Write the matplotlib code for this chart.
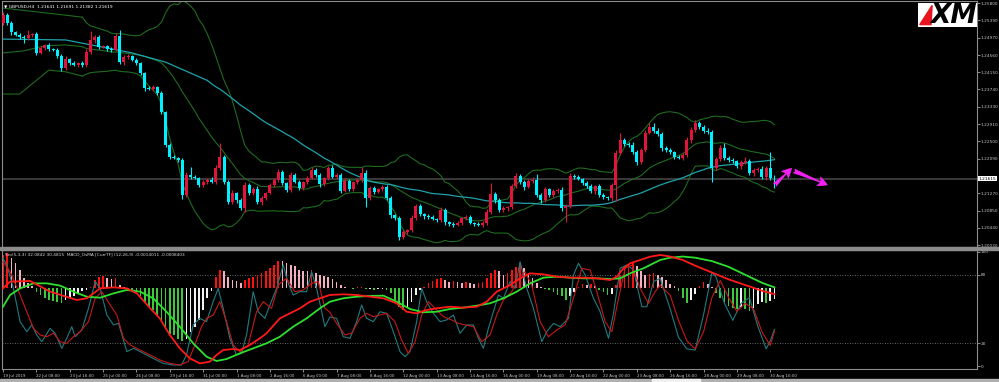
import numpy as np
import pandas as pd
import matplotlib
matplotlib.use("Agg")
import matplotlib.pyplot as plt
from matplotlib.patches import Rectangle, Polygon
from matplotlib.transforms import blended_transform_factory

# ---------------- data ----------------
symbol_title = "\u25BC GBPUSD,H4  1.21641 1.21691 1.21382 1.21619"
indicator_title = "Sto(5,3,3) 32.0842 30.4815  MACD_OsMA [CurrTF] (12,26,9) -0.0014011 -0.0008403"

first_open = 1.25324
closes = [
    1.25514, 1.25324, 1.25109, 1.25038, 1.24990, 1.24966, 1.25038, 1.25062, 1.24609, 1.24728,
    1.24799, 1.24704, 1.24680, 1.24537, 1.24251, 1.24466, 1.24370, 1.24323, 1.24370, 1.24323,
    1.24632, 1.24918, 1.24990, 1.24752, 1.24770, 1.24704, 1.24690, 1.25014, 1.24394, 1.24513,
    1.24537, 1.24442, 1.24370, 1.24132, 1.23774, 1.23750, 1.23798, 1.23655, 1.23202, 1.22416,
    1.22129, 1.22106, 1.22058, 1.21224, 1.21700, 1.21653, 1.21629, 1.21462, 1.21534, 1.21581,
    1.21534, 1.21867, 1.22129, 1.21534, 1.21057, 1.21271, 1.21104, 1.20914, 1.21462, 1.21271,
    1.21367, 1.21057, 1.21152, 1.21271, 1.21462, 1.21581, 1.21772, 1.21510, 1.21343, 1.21700,
    1.21534, 1.21390, 1.21534, 1.21629, 1.21820, 1.21700, 1.21486, 1.21629, 1.21867, 1.21653,
    1.21700, 1.21319, 1.21557, 1.21367, 1.21534, 1.21581, 1.21748, 1.21152, 1.21390, 1.21295,
    1.21367, 1.21414, 1.21152, 1.20747, 1.20675, 1.20222, 1.20342, 1.20389, 1.20675, 1.20961,
    1.20771, 1.20723, 1.20699, 1.20651, 1.20628, 1.20866, 1.20580, 1.20532, 1.20508, 1.20556,
    1.20675, 1.20699, 1.20556, 1.20532, 1.20520, 1.20556, 1.20818, 1.21247, 1.21104, 1.20866,
    1.20914, 1.20938, 1.21438, 1.21677, 1.21534, 1.21414, 1.21557, 1.21581, 1.21224, 1.21104,
    1.21367, 1.21224, 1.21319, 1.21343, 1.20914, 1.20961, 1.21677, 1.21653, 1.21605, 1.21510,
    1.21438, 1.21319, 1.21438, 1.21224, 1.21176, 1.21152, 1.21462, 1.22225, 1.22535, 1.22439,
    1.22416, 1.22249, 1.22010, 1.22296, 1.22702, 1.22845, 1.22749, 1.22678, 1.22344, 1.22296,
    1.22249, 1.22129, 1.22106, 1.22177, 1.22535, 1.22773, 1.22940, 1.22845, 1.22749, 1.22725,
    1.21867, 1.22082, 1.22344, 1.22106, 1.22058, 1.22034, 1.21915, 1.22010, 1.22034, 1.21748,
    1.21820, 1.21843, 1.21653, 1.21867, 1.21629, 1.21619,
]
upper_wick_pips = [
    6, 4, 5, 3, 4, 5, 12, 3, 4, 5,
    3, 4, 2, 5, 4, 6, 3, 4, 3, 5,
    6, 21, 5, 4, 3, 4, 5, 6, 14, 4,
    5, 3, 4, 3, 2, 4, 5, 3, 4, 3,
    4, 5, 3, 4, 6, 19, 4, 3, 5, 4,
    6, 8, 33, 5, 4, 6, 3, 5, 7, 4,
    5, 6, 4, 3, 5, 4, 6, 5, 3, 6,
    4, 5, 3, 4, 6, 5, 4, 3, 5, 6,
    4, 5, 6, 4, 3, 5, 14, 6, 4, 5,
    3, 4, 5, 4, 3, 5, 4, 3, 6, 5,
    4, 3, 5, 4, 3, 6, 4, 3, 5, 4,
    3, 5, 4, 3, 4, 5, 8, 26, 4, 5,
    4, 3, 5, 6, 4, 5, 4, 6, 14, 4,
    5, 3, 4, 5, 6, 4, 7, 4, 5, 3,
    4, 5, 3, 4, 5, 3, 4, 6, 17, 5,
    4, 6, 5, 4, 8, 10, 9, 6, 5, 4,
    5, 3, 4, 5, 6, 8, 7, 5, 4, 6,
    5, 4, 6, 12, 4, 5, 3, 4, 9, 5,
    4, 5, 6, 4, 38, 6,
]
lower_wick_pips = [
    5, 4, 6, 3, 5, 12, 4, 5, 6, 3,
    4, 5, 3, 4, 6, 5, 4, 3, 5, 4,
    5, 4, 6, 5, 3, 4, 5, 4, 5, 6,
    4, 3, 5, 4, 6, 3, 4, 5, 4, 6,
    5, 3, 4, 10, 5, 4, 3, 5, 4, 6,
    3, 5, 4, 6, 5, 4, 6, 5, 10, 4,
    5, 4, 6, 5, 3, 4, 5, 6, 4, 5,
    3, 4, 5, 4, 3, 5, 6, 4, 5, 3,
    5, 4, 3, 6, 4, 5, 4, 21, 5, 4,
    3, 5, 4, 6, 5, 8, 4, 6, 5, 4,
    5, 6, 4, 3, 5, 4, 6, 5, 4, 3,
    5, 4, 3, 5, 4, 6, 5, 4, 6, 5,
    4, 6, 5, 4, 5, 6, 3, 5, 4, 6,
    5, 4, 6, 5, 7, 33, 4, 5, 3, 4,
    5, 4, 6, 5, 4, 5, 6, 38, 4, 5,
    4, 5, 6, 4, 5, 3, 4, 5, 6, 4,
    5, 4, 3, 5, 4, 6, 5, 4, 5, 4,
    33, 5, 4, 6, 5, 4, 5, 6, 4, 5,
    6, 4, 5, 6, 4, 24,
]

# early (pre-window) parts of the indicator lines
bb_upper_early_idx = [0, 8, 15]
bb_upper_early_val = [1.2568, 1.2559, 1.2551]
bb_mid_early_idx = [0, 5, 10, 15]
bb_mid_early_val = [1.2461, 1.2466, 1.2478, 1.2480]
bb_lower_early_idx = [0, 4, 11, 15]
bb_lower_early_val = [1.2363, 1.2363, 1.2420, 1.2416]
ma_early_idx = [0, 15, 31, 39]
ma_early_val = [1.2494, 1.2492, 1.2461, 1.2439]
bb_period = 20
ma_period = 50

current_price = 1.21615
price_ticks = [1.25800, 1.25390, 1.24970, 1.24560, 1.24150, 1.23740, 1.23330,
               1.22910, 1.22500, 1.22090, 1.21270, 1.20850, 1.20440, 1.20030]

x_tick_labels = ["19 Jul 2019", "22 Jul 08:00", "23 Jul 16:00", "25 Jul 00:00", "26 Jul 08:00",
                 "29 Jul 16:00", "31 Jul 00:00", "1 Aug 08:00", "2 Aug 16:00", "6 Aug 00:00",
                 "7 Aug 08:00", "8 Aug 16:00", "12 Aug 00:00", "13 Aug 08:00", "14 Aug 16:00",
                 "16 Aug 00:00", "19 Aug 08:00", "20 Aug 16:00", "22 Aug 00:00", "23 Aug 08:00",
                 "26 Aug 16:00", "28 Aug 00:00", "29 Aug 08:00", "30 Aug 16:00"]
x_tick_bars = list(range(0, 8 * len(x_tick_labels), 8))

# magenta forecast arrows: (bar, price) tail -> head
arrow1 = ((185.0, 1.2146), (189.2, 1.2187))
arrow2 = ((189.6, 1.2180), (197.8, 1.2146))

# lower panel (0..100 scale)
osma_base = 68.2
osma_vals = [
    97, 99, 95, 90, 84, 77, 73, 70, 65, 62,
    59.6, 58, 57, 56, 55.5, 58, 59.6, 61, 63, 65.5,
    67, 69.6, 75.4, 78.4, 79, 77, 76, 77.5, 71, 69.6,
    67, 66.5, 65.5, 61, 56.4, 52, 49, 44.6, 40.2, 34.4,
    28.5, 27, 24, 21.8, 24, 30, 34.4, 40.2, 49, 59.6,
    66, 78.4, 84, 83, 78.4, 75.4, 74.5, 72.5, 75.4, 77,
    78.4, 80, 81.3, 83, 86, 89, 92.5, 92, 90, 89,
    87.4, 84.5, 83.6, 83, 84.5, 81.6, 79.5, 79, 78, 76.5,
    74, 71, 69.6, 68.8, 67.8, 69, 69.6, 67.3, 67.6, 67.0,
    67.4, 67.8, 66.7, 64, 58, 52, 49, 50.6, 56.4, 62.3,
    67, 69.6, 72.5, 74.5, 76.3, 77, 75.4, 73.4, 74.5, 73.4,
    72.5, 73.4, 72.5, 71.6, 72.5, 74, 77, 81.3, 84.2, 83,
    80, 81.3, 84.2, 87, 90, 85.7, 81.3, 77, 72.5, 69.6,
    67.3, 66.7, 65.2, 62.3, 61, 58, 61, 65.2, 69.6, 71.6,
    71, 71.6, 70.1, 66.7, 65.2, 62.3, 63, 71, 80, 86,
    89, 90.4, 87.4, 83, 80, 80.7, 81.6, 80, 78, 75,
    72, 70, 66, 60, 55, 58, 63, 70, 74, 72,
    69, 64, 60, 56, 53, 51, 50, 52, 50, 48,
    51, 54, 56, 55, 57, 59,
]

stoch_main_idx = [0, 0.9, 2.5, 4.1, 5.7, 6.9, 8.1, 9.3, 11.3, 12.5, 14.1, 15.3, 16.5, 17.3, 18.9,
                  20.5, 22.1, 23.3, 24.9, 26.5, 27.7, 29.7, 31.3, 32.9, 34.5, 36, 38.4, 40.8, 42.8,
                  44, 45.6, 47.2, 48.8, 50.4, 51.6, 52.8, 54.4, 56, 57.2, 58.4, 60, 61.2, 62.8, 64,
                  65.6, 67.2, 68.4, 69.6, 71.2, 72.8, 74, 75.2, 77.2, 78.4, 80, 81.6, 83.2, 84.8,
                  86, 87.2, 88.8, 90.4, 92, 93.6, 95.2, 96.4, 97.6, 99.2, 100.4, 101.6, 103.2,
                  104.8, 106.4, 108, 109.6, 111.2, 112.8, 114, 115.2, 116.4, 117.6, 118.8, 120,
                  121.6, 122.8, 124, 125.6, 127.2, 129.2, 130.4, 132, 133.6, 135.6, 136.8, 138,
                  139.6, 141.6, 143.2, 145.2, 146.4, 148, 149.6, 151.2, 153.2, 154.4, 156, 157.6,
                  160, 162, 164, 166, 168, 170, 171, 173, 175, 177, 179, 181, 183, 184, 185]
stoch_main_val = [94.4, 88.6, 68.1, 38.9, 30.1, 36, 27.2, 21.3, 33, 28.7, 15.5, 24.3, 34.5, 25.7, 31.6,
                  50.6, 74, 68.1, 44.7, 36, 37.4, 12.6, 15.5, 12.6, 9.6, 6.7, 2.3, 0.9, 0.9,
                  9.6, 36, 41.8, 38.9, 56.4, 68.1, 50.6, 24.3, 9.6, 11.1, 27.2, 65.2, 47.6, 41.8, 53.5,
                  68.1, 88.6, 72.5, 62.3, 65.2, 65.2, 82.7, 68.1, 34.5, 43, 41.8, 25.7, 24.3, 38.9,
                  53.5, 41.8, 38.9, 47.6, 46.2, 30.1, 12.6, 8.2, 12.6, 38.9, 68.1, 56.4, 46.2,
                  38.9, 40.4, 44.7, 28.7, 36, 36, 24.3, 15.5, 33, 47.6, 62.3, 59.4,
                  74, 68.1, 91.5, 68.1, 50.6, 21.3, 30.1, 37.4, 34.5, 41.8, 79.8, 90.1,
                  79.8, 59.4, 47.6, 24.3, 46.2, 85.7, 88.6, 84.2, 52, 52, 74, 76.9,
                  50, 25, 15, 14, 45, 82, 78, 55, 40, 55, 60, 35, 15, 22, 32.08]
stoch_sig_idx = [0, 1.7, 4.1, 5.7, 7.3, 8.9, 10.5, 12.1, 13.7, 15.3, 16.9, 18.5, 20.5, 22.1, 23.7,
                 25.7, 27.3, 28.9, 30.5, 32.9, 35.3, 37.6, 40, 42.4, 44.4, 46, 47.6, 48.8, 50.4, 52,
                 53.6, 55.2, 56.8, 58.8, 60.8, 62.4, 64.4, 66, 68, 70, 72, 74, 75.6, 77.2, 78.4, 80,
                 82, 83.6, 85.6, 87.2, 88.8, 90.4, 92, 94, 95.6, 97.2, 98.8, 100.4, 102, 103.6,
                 105.6, 107.6, 109.2, 110.8, 112.8, 114.8, 116.8, 118.4, 120, 122, 123.6, 125.2,
                 126.8, 128.8, 130.8, 132.8, 134.8, 136.8, 138.8, 140.8, 142.4, 144.4, 146, 147.6,
                 149.2, 150.8, 152.8, 154.8, 156.4, 157.6, 160, 162, 164, 166, 168, 170, 172, 174,
                 176, 178, 180, 182, 184, 185]
stoch_sig_val = [91.5, 82.7, 62.3, 47.6, 33, 27.2, 25.7, 28.7, 21.3, 19.9, 25.7, 30.1, 38.9, 59.4, 65.2,
                 53.5, 44.7, 24.3, 18.4, 14, 9.6, 5.3, 2.3, 0.9, 3.8, 18.4, 34.5, 41.8, 44.7, 56.4,
                 38.9, 18.4, 12.6, 18.4, 47.6, 56.4, 50.6, 71, 76.9, 65.2, 66.7, 72.5, 74, 50.6, 47, 37.4,
                 27.2, 28.7, 41.8, 46.2, 43.3, 44.7, 46.2, 38.9, 22.8, 11.1, 21.3, 44.7, 56.4, 50.6,
                 43.3, 40.4, 37.4, 36, 34.5, 21.3, 27.2, 44.7, 57.9, 65.2, 76.9, 82.7,
                 71, 38.9, 25.7, 31.6, 36, 59.4, 85.7, 84.2, 65.2, 38.9, 30.1, 59.4,
                 85.7, 88.6, 68.1, 55, 65.2, 71, 62, 40, 22, 15, 30, 60, 75, 60,
                 48, 55, 50, 30, 18, 30.48]

macd_red_idx = [0, 1.7, 6.5, 11.3, 17.7, 20.1, 23.3, 26.5, 29.7, 32.1, 35.3, 37.6, 40, 42.4, 44.8,
                47.2, 49.6, 51.2, 52.8, 55.2, 56.8, 59.2, 61.6, 63.2, 66.4, 68.8, 71.2, 73.6, 76,
                78.4, 81.6, 84.8, 88, 91.2, 94.4, 96.8, 99.2, 101.6, 104, 107.2, 110.4, 113.6, 116,
                118.4, 121.6, 124, 126.4, 129.6, 132.8, 136, 139.2, 142.4, 145.6, 147.2, 148.8,
                150.4, 152.8, 155.2, 157.6, 160, 163, 166, 170, 174, 178, 182, 185]
macd_red_val = [68.1, 74, 74.6, 65.2, 57.9, 59.4, 68.1, 69, 68.1, 63.7, 50.6, 41.8, 27.2, 15.5, 6.7,
                2.3, 3.8, 9.6, 14, 14.9, 14, 18.4, 24.3, 28.7, 41.8, 46.2, 50.6, 56.4, 59.4,
                62.3, 62.9, 62.3, 60.8, 59.4, 55, 47.6, 46.2, 49.1, 50.6, 52, 51.2, 52, 56.4,
                65.2, 71, 76.9, 81.3, 80.4, 78.4, 77.5, 77.5, 76.9, 75.4, 78.4, 85.7,
                90.1, 93, 95.9, 97.4, 96, 93, 88, 82, 76, 71, 66, 63]
macd_green_idx = [0, 1.7, 4.1, 7.3, 10.5, 13.7, 16.9, 20.1, 23.3, 26.5, 29.7, 32.9, 36, 39.2, 42.4,
                  45.6, 48.8, 51.2, 53.6, 56.8, 60, 63.2, 66.4, 69.6, 72.8, 76, 78.4, 81.6, 84.8,
                  88, 91.2, 94.4, 97.6, 100.8, 104, 107.2, 110.4, 113.6, 116.8, 120, 123.2, 126.4,
                  129.6, 132.8, 136, 139.2, 142.4, 145.6, 148, 150.4, 153.6, 156, 157.6, 160, 163,
                  166, 170, 174, 178, 182, 185]
macd_green_val = [52, 62.3, 68.1, 72.5, 72.5, 70.5, 65.2, 60.8, 59.9, 63.7, 66.7, 65.2, 59.4, 47.6, 34.5,
                  19.9, 8.2, 4.4, 6.1, 11.1, 15.5, 19.9, 25.7, 34.5, 41.8, 50.6, 56.4, 59.4, 60.8,
                  61.4, 61.7, 56.4, 50, 47.1, 47.6, 50, 51.2, 52.9, 55, 59.4, 65.2, 72.5,
                  77.5, 78.4, 77.5, 76.9, 76.9, 76.3, 76.9, 81.3, 85.7, 90.1, 93, 95, 96,
                  95, 92, 87, 80, 73, 69]

# ---------------- figure ----------------
W, H = 999, 382
fig = plt.figure(figsize=(W / 100, H / 100), dpi=100, facecolor="black")
ax = fig.add_axes([2 / W, 1 - 247 / H, 975 / W, 246 / H], facecolor="black")
ax2 = fig.add_axes([2 / W, 1 - 369 / H, 975 / W, 119 / H], facecolor="black")

xlim = (-0.24, 233.57)
ax.set_xlim(*xlim)
ax.set_ylim(1.19984, 1.25848)
ax2.set_xlim(*xlim)
ax2.set_ylim(-2.63, 101.75)

spine_col = "#8c8c8c"
for a in (ax, ax2):
    for s in a.spines.values():
        s.set_color(spine_col)
        s.set_linewidth(0.8)

# ---- candles ----
c = np.array(closes)
o = np.r_[first_open, c[:-1]]
hi = np.maximum(o, c) + np.array(upper_wick_pips) * 1e-4
lo = np.minimum(o, c) - np.array(lower_wick_pips) * 1e-4
idx = np.arange(len(c))
up = c >= o
col_up, col_dn = "#e0143c", "#00f0ff"
cols = np.where(up, col_up, col_dn)
body = c - o
body = np.where(np.abs(body) < 0.00012, np.where(up, 0.00012, -0.00012), body)

ax.axhline(current_price, color="#4a4a4a", lw=1.1, zorder=1)
ax.vlines(idx, lo, hi, colors=cols, lw=0.8, zorder=3)
ax.bar(idx, body, bottom=o, width=0.72, color=cols, linewidth=0, zorder=4)

# ---- Bollinger bands and moving average ----
cs = pd.Series(c)
mid = cs.rolling(bb_period).mean()
sd = cs.rolling(bb_period).std(ddof=0)
bb_u = mid + 2 * sd
bb_l = mid - 2 * sd
ma = cs.rolling(ma_period).mean()
band_col = "#1f6b1f"
j = bb_period - 1
for e_idx, e_val, ser in ((bb_upper_early_idx, bb_upper_early_val, bb_u),
                          (bb_mid_early_idx, bb_mid_early_val, mid),
                          (bb_lower_early_idx, bb_lower_early_val, bb_l)):
    ax.plot(list(e_idx) + [j], list(e_val) + [ser.iloc[j]], color=band_col, lw=0.8, zorder=2)
    ax.plot(idx[j:], ser.values[j:], color=band_col, lw=0.8, zorder=2)
k = ma_period - 1
ma_col = "#1fa2ab"
ax.plot(list(ma_early_idx) + [k], list(ma_early_val) + [ma.iloc[k]], color=ma_col, lw=0.9, zorder=2)
ax.plot(idx[k:], ma.values[k:], color=ma_col, lw=0.9, zorder=2)

# ---- arrows ----
for tail, head in (arrow1, arrow2):
    ax.annotate("", xy=head, xytext=tail,
                arrowprops=dict(arrowstyle="fancy,head_length=0.75,head_width=0.75,tail_width=0.35",
                                color="#f020f0", lw=0, shrinkA=0, shrinkB=0, mutation_scale=10),
                zorder=6)

# ---- axes ticks main ----
ax.set_xticks([])
ax.yaxis.tick_right()
ax.set_yticks(price_ticks)
ax.set_yticklabels([f"{p:.5f}" for p in price_ticks])
ax.tick_params(axis="y", colors="#c8c8c8", labelsize=3.1, length=2, width=0.5, pad=0.8)
trans = blended_transform_factory(ax.transAxes, ax.transData)
ax.text(1.0015, current_price, f"{current_price:.5f}", transform=trans, fontsize=3.1,
        color="black", va="center", ha="left",
        bbox=dict(boxstyle="square,pad=0.12", fc="white", ec="white", lw=0))

# ---- lower panel ----
h = np.array(osma_vals)
prev = np.r_[h[0], h[:-1]]
hcols = np.where(h >= osma_base, np.where(h >= prev, "#ff1010", "#f4b0c0"),
                 np.where(h < prev, "#3ec83e", "#f2f2f2"))
ax2.bar(idx, h - osma_base, bottom=osma_base, width=0.4, color=hcols, linewidth=0, zorder=2)
ax2.axhline(80, color="#8a8a8a", lw=0.6, ls=(0, (1, 2)), zorder=1)
ax2.axhline(20, color="#8a8a8a", lw=0.6, ls=(0, (1, 2)), zorder=1)
ax2.plot(stoch_main_idx, stoch_main_val, color="#1f7c80", lw=0.8, zorder=3)
ax2.plot(stoch_sig_idx, stoch_sig_val, color="#c81818", lw=0.8, zorder=3)
ax2.plot(macd_green_idx, macd_green_val, color="#2ee02e", lw=1.3, zorder=4)
ax2.plot(macd_red_idx, macd_red_val, color="#ff1a1a", lw=1.3, zorder=4)

ax2.yaxis.tick_right()
ax2.set_yticks([0, 20, 80, 100])
ax2.set_yticklabels(["0", "20", "80", "100"])
ax2.tick_params(axis="y", colors="#c8c8c8", labelsize=3.1, length=2, width=0.5, pad=0.8)
ax2.set_xticks(x_tick_bars)
ax2.set_xticklabels(x_tick_labels)
ax2.tick_params(axis="x", colors="#c8c8c8", labelsize=2.9, length=2.5, width=0.5, pad=1)
for lab in ax2.get_xticklabels():
    lab.set_ha("left")

# ---- texts ----
fig.text(4 / W, 1 - 6.5 / H, symbol_title, fontsize=3.2, color="white", va="center", ha="left")
fig.text(5 / W, 1 - 254 / H, indicator_title, fontsize=3.05, color="#d8d8d8", va="center", ha="left")

# ---- separators / bottom strip ----
fig.patches.append(Rectangle((0, 1 - 250 / H), 1, 3 / H, transform=fig.transFigure,
                             color="#8c8c8c", zorder=0))
fig.patches.append(Rectangle((0, 0), 1, 3 / H, transform=fig.transFigure, color="#b0b0b0", zorder=0))
fig.patches.append(Rectangle((652 / W, 0), 48 / W, 3 / H, transform=fig.transFigure,
                             color="#f0f0f0", zorder=1))

# ---- XM logo ----
lax = fig.add_axes([918 / W, 1 - 27 / H, 59 / W, 24 / H], facecolor="white")
lax.set_xticks([]); lax.set_yticks([])
for s in lax.spines.values():
    s.set_visible(False)
lax.set_xlim(0, 1); lax.set_ylim(0, 1)
lax.add_patch(Polygon([(0.03, 0.1), (0.24, 0.9), (0.22, 0.1)], closed=True, color="#e8141e"))
lax.text(0.6, 0.47, "XM", fontsize=19, fontweight="black", style="italic", ha="center",
         va="center", color="black")

fig.savefig("out.png", dpi=100, facecolor="black")
